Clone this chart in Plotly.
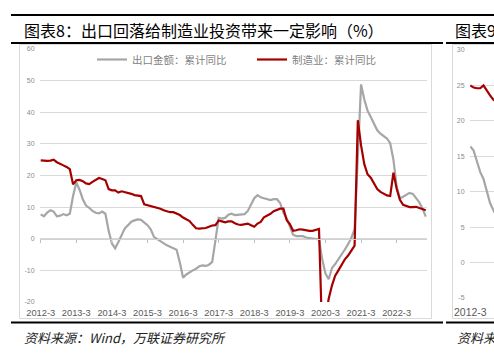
import plotly.graph_objects as go

# ---------------- data ----------------
# monthly cumulative YoY (Jan merged into Feb), 2012-03 .. 2022-12
months = []
for yr in range(2012, 2023):
    for mo in range(3 if yr == 2012 else 2, 13):
        months.append(f"{yr}-{mo:02d}")

export_yoy = [
    7.7, 7.1, 8.3, 9.0, 8.6, 7.1, 7.3, 7.8, 7.4, 7.9,
    13.5, 17.8, 15.5, 12.5, 10.5, 9.8, 8.8, 8.2, 8.0, 8.6, 7.9,
    2.5, -1.5, -3.0, -1.0, 1.0, 3.3, 4.3, 5.4, 5.8, 6.1, 6.0,
    5.2, 4.3, 3.0, 0.6, -0.1, -0.8, -1.5, -2.1, -2.5, -2.9, -3.5,
    -7.5, -12.3, -11.3, -10.6, -10.0, -9.5, -8.7, -8.4, -8.6, -8.2, -7.3,
    -0.5, 6.6, 6.4, 6.6, 7.6, 7.9, 7.5, 7.6, 7.5, 7.8, 8.8,
    11.0, 12.8, 13.8, 13.1, 12.8, 12.5, 12.2, 12.5, 12.5, 11.3, 8.2,
    6.5, 4.0, 1.3, 0.8, 0.8, 0.8, 0.4, 0.2, 0.1, 0.0, -0.2,
    -6.5, -11.0, -12.8, -9.3, -8.0, -6.6, -5.2, -3.4, -1.7, 0.3, 3.0,
    25.0, 48.8, 44.0, 40.5, 38.5, 36.5, 34.3, 33.2, 32.5, 31.7, 30.2,
    25.0, 16.5, 12.8, 13.3, 14.0, 14.5, 14.2, 13.0, 11.5, 9.5, 7.0,
]

mfg_yoy = [
    24.8, 24.6, 24.6, 24.7, 25.0, 24.2, 23.6, 23.2, 22.7, 22.0,
    17.2, 18.5, 18.6, 18.2, 17.5, 17.3, 18.0, 18.6, 19.2, 18.9, 18.5,
    15.7, 15.3, 15.3, 14.6, 15.0, 14.8, 14.5, 14.2, 13.8, 13.7, 13.5,
    10.9, 10.6, 10.3, 10.2, 9.8, 9.5, 9.0, 8.6, 8.4, 8.4, 8.0,
    7.5, 6.7, 6.2, 5.6, 4.4, 3.3, 3.2, 3.3, 3.4, 3.8, 4.2,
    4.3, 5.8, 5.5, 5.2, 5.5, 5.5, 4.9, 4.5, 4.4, 4.5, 4.8,
    4.3, 3.8, 4.8, 5.3, 6.8, 7.3, 7.9, 8.7, 9.1, 9.5, 9.5,
    5.9, 4.6, 2.5, 2.7, 3.0, 2.9, 2.6, 2.5, 2.5, 2.9, 3.1,
    -31.0, -25.0, -19.0, -14.8, -11.7, -10.0, -8.3, -6.5, -5.3, -3.7, -2.2,
    37.5, 29.5, 23.6, 20.4, 19.3, 17.5, 15.7, 14.8, 14.2, 13.7, 13.5,
    20.9, 15.8, 12.3, 10.7, 10.4, 10.0, 10.0, 10.1, 9.7, 9.3, 9.0,
]

tick_cats = [f"{y}-03" for y in range(2012, 2023)]
tick_text = [f"{y}-3" for y in range(2012, 2023)]
y_ticks = [-20, -10, 0, 10, 20, 30, 40, 50, 60]
y_ticktext = ["-20", "-10", "0", "10", "20", "30", "40", "50", "60"]

# partially visible neighbouring chart (图表9)
months9 = ["2012-03", "2012-04", "2012-05", "2012-06", "2012-07",
           "2012-08", "2012-09", "2012-10", "2012-11"]
c9_gray = [16.4, 15.8, 14.3, 12.8, 11.8, 10.1, 8.4, 7.4, 6.5]
c9_red = [25.0, 24.7, 24.6, 24.6, 25.0, 24.2, 23.6, 23.0, 22.7]
y9_ticks = [-5, 0, 5, 10, 15, 20, 25, 30]
y9_ticktext = ["-5", "0", "5", "10", "15", "20", "25", "30"]

# ---------------- layout helpers ----------------
W, H = 494, 354
ML, MR, MT, MB = 40, 0, 49, 52
PW = W - ML - MR
PH = H - MT - MB


def px(x):
    return (x - ML) / PW


def py(y):
    return 1 - (y - MT) / PH


GRAY = "#A6A6A6"
RED = "#A50000"
GRID = "#D9D9D9"
CJK = "Noto Sans CJK SC"
SANS = "Liberation Sans"

fig = go.Figure()
fig.add_trace(go.Scatter(x=months, y=export_yoy, mode="lines", name="出口金额：累计同比",
                         line=dict(color=GRAY, width=2.2), xaxis="x", yaxis="y"))
fig.add_trace(go.Scatter(x=months, y=mfg_yoy, mode="lines", name="制造业：累计同比",
                         line=dict(color=RED, width=2.2), xaxis="x", yaxis="y"))
# carrier for the zero-line axis with tick marks
fig.add_trace(go.Scatter(x=months, y=mfg_yoy, mode="lines", line=dict(width=0), opacity=0,
                         showlegend=False, hoverinfo="skip", xaxis="x2", yaxis="y"))
fig.add_trace(go.Scatter(x=months9, y=c9_gray, mode="lines", showlegend=False,
                         line=dict(color=GRAY, width=2.2), xaxis="x3", yaxis="y3"))
fig.add_trace(go.Scatter(x=months9, y=c9_red, mode="lines", showlegend=False,
                         line=dict(color=RED, width=2.2), xaxis="x3", yaxis="y3"))

step = 3.236
r0 = -0.7 / step
r1 = r0 + (427 - 40) / step
xr = [r0, r1]

fig.update_layout(
    width=W, height=H,
    margin=dict(l=ML, r=MR, t=MT, b=MB),
    paper_bgcolor="white", plot_bgcolor="white",
    showlegend=True,
    legend=dict(orientation="h", x=px(92), y=py(45), xanchor="left", yanchor="top",
                font=dict(size=10.5, color="#7F7F7F", family=CJK),
                bgcolor="rgba(0,0,0,0)", itemwidth=30, entrywidth=115),
    xaxis=dict(domain=[0, px(427)], type="category", categoryorder="array", categoryarray=months,
               range=xr, tickvals=tick_cats, ticktext=tick_text, showgrid=False, zeroline=False,
               showline=False, ticks="", ticklabelstandoff=4,
               tickfont=dict(size=9.3, color="#595959", family=SANS),
               automargin=False, anchor="y"),
    xaxis2=dict(overlaying="x", anchor="free", position=0.25, type="category",
                categoryorder="array", categoryarray=months, range=xr, tickvals=tick_cats,
                showticklabels=False, ticks="outside", ticklen=3, tickcolor="#BFBFBF",
                showline=True, linecolor="#D0D0D0", linewidth=1, showgrid=False,
                zeroline=False, automargin=False),
    yaxis=dict(domain=[0, 1], range=[-20, 60], tickvals=y_ticks, ticktext=y_ticktext,
               showgrid=True, gridcolor=GRID, gridwidth=1, zeroline=False, showline=False,
               ticks="outside", ticklen=3, tickcolor="rgba(0,0,0,0)",
               tickfont=dict(size=7, color="#8C8C8C", family=SANS), automargin=False, anchor="x"),
    xaxis3=dict(domain=[px(470), 1], anchor="y3", type="category", categoryorder="array",
                categoryarray=months9, range=[-0.1, 7.2], tickvals=["2012-03"], ticktext=["2012-3"],
                showgrid=False, zeroline=False, showline=False, ticks="", ticklabelstandoff=6,
                tickfont=dict(size=10.5, color="#595959", family=SANS), automargin=False),
    yaxis3=dict(domain=[py(298), py(50)], anchor="x3", range=[-5, 30], tickvals=y9_ticks,
                ticktext=y9_ticktext, showgrid=True, gridcolor=GRID, zeroline=False,
                showline=False, ticks="outside", ticklen=3, tickcolor="rgba(0,0,0,0)",
                tickfont=dict(size=7, color="#8C8C8C", family=SANS), automargin=False),
)

shapes = []
# chart frames
shapes.append(dict(type="rect", xref="paper", yref="paper", x0=px(19.5), x1=px(431.5),
                   y0=py(318.5), y1=py(44.5), line=dict(color=GRID, width=1)))
shapes.append(dict(type="rect", xref="paper", yref="paper", x0=px(452.5), x1=px(560),
                   y0=py(318.5), y1=py(44.5), line=dict(color=GRID, width=1)))
# heavy rules
for (xa, xb, yy) in [(11, 494, 15), (11, 443, 43), (446, 494, 43), (11, 443, 322.5), (446, 494, 322.5)]:
    shapes.append(dict(type="line", xref="paper", yref="paper", x0=px(xa), x1=px(xb),
                       y0=py(yy), y1=py(yy), line=dict(color="black", width=2.2)))
fig.update_layout(shapes=shapes)

ann = [
    dict(text="图表8：出口回落给制造业投资带来一定影响（%）", x=px(22), y=py(29.5)),
    dict(text="图表9：", x=px(453), y=py(29.5)),
]
for a in ann:
    fig.add_annotation(text=a["text"], x=a["x"], y=a["y"], xref="paper", yref="paper",
                       xanchor="left", yanchor="middle", showarrow=False,
                       font=dict(size=16, color="black", family=CJK))
for (t, xx) in [("资料来源：Wind，万联证券研究所", 22), ("资料来源：Wind，万联证券研究所", 455)]:
    fig.add_annotation(text="<i>" + t + "</i>", x=px(xx), y=py(337), xref="paper", yref="paper",
                       xanchor="left", yanchor="middle", showarrow=False,
                       font=dict(size=13, color="#222222", family=CJK))

fig.write_html("out.html")
